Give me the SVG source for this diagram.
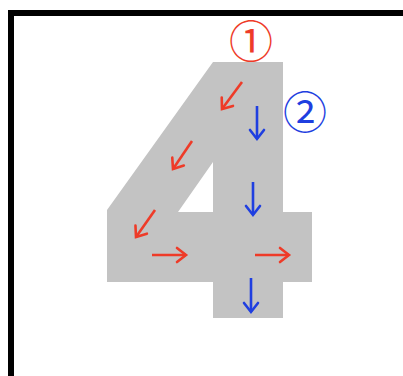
<svg xmlns="http://www.w3.org/2000/svg" width="403" height="376" viewBox="0 0 403 376">
  <defs>
    <marker id="hr" markerUnits="userSpaceOnUse" markerWidth="14" markerHeight="18" refX="10" refY="8" orient="auto" overflow="visible">
      <path d="M1,1 L10,8 L1,15" fill="none" stroke="#ee3b28" stroke-width="2.6" stroke-linecap="round" stroke-linejoin="miter"/>
    </marker>
    <marker id="hb" markerUnits="userSpaceOnUse" markerWidth="14" markerHeight="18" refX="10" refY="8" orient="auto" overflow="visible">
      <path d="M1,1 L10,8 L1,15" fill="none" stroke="#1f3fe0" stroke-width="2.6" stroke-linecap="round" stroke-linejoin="miter"/>
    </marker>
    <style>
      .r { stroke: #ee3b28; stroke-width: 2.6; fill: none; marker-end: url(#hr); }
      .b { stroke: #1f3fe0; stroke-width: 2.6; fill: none; marker-end: url(#hb); }
      .lbl { font-family: "Noto Sans CJK JP", "DejaVu Sans", sans-serif; font-size: 44px; text-anchor: middle; dominant-baseline: central; }
    </style>
  </defs>
  <rect width="403" height="376" fill="#ffffff"/>
  <rect id="frame" x="11" y="13" width="420" height="420" fill="none" stroke="#000000" stroke-width="6"/>
  <g id="digit4">
    <path d="M213,62 L283,62 L283,212 L312,212 L312,282 L283,282 L283,318 L213,318 L213,282 L107,282 L107,210 Z M213,162 L178,212 L213,212 Z" fill="#c3c3c3" fill-rule="evenodd"/>
  </g>
  <g id="connectors">
    <line class="r" x1="242" y1="82" x2="222" y2="109"/>
    <line class="r" x1="192" y1="141" x2="173" y2="169"/>
    <line class="r" x1="155" y1="210" x2="136" y2="237"/>
    <line class="r" x1="152" y1="255" x2="186" y2="255"/>
    <line class="r" x1="255" y1="255" x2="289" y2="255"/>
    <line class="b" x1="257" y1="106" x2="257" y2="139"/>
    <line class="b" x1="253" y1="182" x2="253" y2="215"/>
    <line class="b" x1="251" y1="278" x2="251" y2="312"/>
  </g>
  <g id="label1"><text class="lbl" x="251" y="39" fill="#ee3b28">①</text></g>
  <g id="label2"><text class="lbl" x="305" y="110" fill="#1f3fe0">②</text></g>
</svg>
